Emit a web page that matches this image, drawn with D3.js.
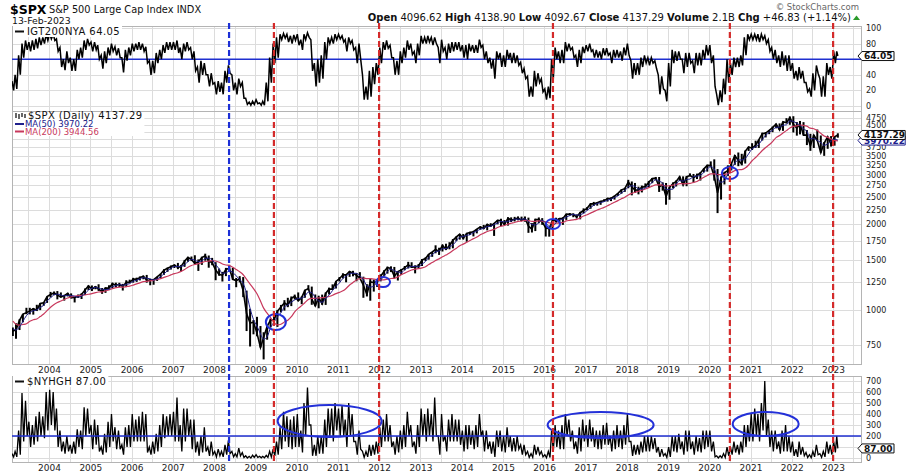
<!DOCTYPE html>
<html>
<head>
<meta charset="utf-8">
<script src="https://cdn.jsdelivr.net/npm/d3@7"></script>
<style>
  body { margin: 0; background: #fff; }
  svg text { font-family: "DejaVu Sans", Verdana, sans-serif; }
</style>
</head>
<body>
<div id="chart"></div>
<script>
/* DATA: monthly values, Feb 2003 .. Feb 2023 (241 months) */
const spxHigh = [
  864, 895, 924, 965, 1015, 1015, 1011, 1040, 1054, 1063, 1112,
  1155, 1159, 1163, 1150, 1127, 1146, 1141, 1109, 1131, 1142, 1188, 1217,
  1217, 1212, 1229, 1192, 1199, 1219, 1246, 1245, 1244, 1233, 1270, 1276,
  1295, 1297, 1310, 1318, 1326, 1285, 1280, 1307, 1340, 1389, 1407, 1432,
  1441, 1462, 1438, 1498, 1535, 1540, 1556, 1504, 1538, 1576, 1553, 1523,
  1471, 1396, 1359, 1404, 1440, 1405, 1293, 1313, 1303, 1167, 1007, 919,
  943, 875, 832, 878, 930, 956, 997, 1039, 1080, 1101, 1113, 1130,
  1150, 1113, 1175, 1220, 1206, 1131, 1120, 1130, 1150, 1196, 1228, 1263,
  1303, 1344, 1332, 1367, 1371, 1346, 1356, 1307, 1230, 1292, 1277, 1270,
  1333, 1378, 1419, 1422, 1415, 1363, 1392, 1426, 1475, 1470, 1434, 1448,
  1509, 1530, 1570, 1598, 1687, 1654, 1698, 1709, 1730, 1775, 1813, 1849,
  1850, 1867, 1884, 1897, 1924, 1968, 1991, 2005, 2019, 2018, 2075, 2094,
  2072, 2119, 2117, 2126, 2134, 2130, 2133, 2113, 2021, 2094, 2116, 2104,
  2038, 1962, 2072, 2111, 2103, 2120, 2178, 2194, 2188, 2169, 2214, 2278,
  2301, 2372, 2401, 2398, 2418, 2454, 2484, 2491, 2519, 2582, 2657, 2695,
  2873, 2835, 2801, 2718, 2742, 2791, 2848, 2916, 2941, 2940, 2816, 2800,
  2708, 2814, 2861, 2950, 2955, 2965, 3028, 3014, 3022, 3050, 3155, 3248,
  3338, 3394, 3136, 2955, 3068, 3233, 3280, 3514, 3588, 3550, 3646, 3760,
  3870, 3950, 3983, 4218, 4238, 4302, 4429, 4537, 4546, 4608, 4744, 4808,
  4819, 4595, 4637, 4593, 4307, 4178, 4141, 4325, 4120, 3906, 4080, 4101,
  4095, 4195
];
const spxLow = [
  807, 789, 847, 902, 963, 962, 960, 990, 996, 1031, 1056,
  1105, 1124, 1087, 1105, 1076, 1113, 1096, 1060, 1100, 1090, 1127, 1173,
  1163, 1180, 1164, 1137, 1146, 1188, 1191, 1201, 1201, 1168, 1201, 1245,
  1245, 1253, 1268, 1280, 1245, 1219, 1224, 1263, 1291, 1327, 1360, 1385,
  1403, 1389, 1364, 1416, 1476, 1484, 1454, 1370, 1439, 1489, 1406, 1435,
  1270, 1317, 1257, 1313, 1374, 1272, 1200, 1248, 1107, 840, 741, 818,
  805, 735, 667, 783, 866, 888, 869, 978, 992, 1020, 1029, 1086,
  1071, 1045, 1101, 1170, 1040, 1028, 1011, 1040, 1039, 1131, 1173, 1187,
  1257, 1289, 1249, 1305, 1311, 1259, 1282, 1101, 1114, 1075, 1158, 1202,
  1258, 1312, 1340, 1357, 1291, 1267, 1325, 1378, 1397, 1403, 1343, 1399,
  1426, 1485, 1501, 1536, 1581, 1560, 1604, 1627, 1633, 1646, 1746, 1767,
  1770, 1737, 1834, 1814, 1859, 1915, 1930, 1905, 1964, 1821, 2001, 1973,
  1988, 1980, 2039, 2048, 2067, 2056, 2044, 1867, 1872, 1894, 2019, 1993,
  1812, 1810, 1937, 2033, 2025, 1992, 2074, 2147, 2120, 2097, 2084, 2187,
  2245, 2271, 2322, 2329, 2345, 2405, 2407, 2417, 2446, 2520, 2566, 2605,
  2682, 2533, 2585, 2553, 2594, 2699, 2699, 2796, 2864, 2604, 2631, 2347,
  2444, 2681, 2722, 2849, 2750, 2728, 2952, 2822, 2891, 2856, 3051, 3071,
  3215, 2855, 2192, 2447, 2767, 2966, 3101, 3245, 3210, 3233, 3280, 3633,
  3663, 3725, 3723, 3955, 4056, 4165, 4233, 4367, 4306, 4279, 4560, 4495,
  4222, 4115, 4157, 4125, 3811, 3637, 3722, 3955, 3584, 3492, 3698, 3765,
  3794, 4048
];
const spxClose = [
  841, 848, 916, 964, 975, 990, 1008, 996, 1051, 1058, 1112,
  1131, 1145, 1126, 1107, 1121, 1141, 1102, 1104, 1115, 1130, 1174, 1212,
  1181, 1204, 1181, 1157, 1192, 1191, 1234, 1220, 1229, 1207, 1249, 1248,
  1280, 1281, 1295, 1311, 1270, 1270, 1277, 1304, 1336, 1378, 1401, 1418,
  1438, 1407, 1421, 1482, 1531, 1503, 1455, 1474, 1527, 1549, 1481, 1468,
  1379, 1331, 1323, 1386, 1400, 1280, 1267, 1283, 1166, 969, 896, 903,
  826, 735, 798, 873, 919, 919, 987, 1021, 1057, 1036, 1096, 1115,
  1074, 1104, 1169, 1187, 1089, 1031, 1102, 1049, 1141, 1183, 1181, 1258,
  1286, 1327, 1326, 1364, 1345, 1321, 1292, 1219, 1131, 1253, 1247, 1258,
  1312, 1366, 1408, 1398, 1310, 1362, 1379, 1407, 1441, 1412, 1416, 1426,
  1498, 1515, 1569, 1598, 1631, 1606, 1686, 1633, 1682, 1757, 1806, 1848,
  1783, 1859, 1872, 1884, 1924, 1960, 1931, 2003, 1972, 2018, 2068, 2059,
  1995, 2105, 2068, 2086, 2107, 2063, 2104, 1972, 1920, 2079, 2080, 2044,
  1940, 1932, 2060, 2065, 2097, 2099, 2174, 2171, 2168, 2126, 2199, 2239,
  2279, 2364, 2363, 2384, 2412, 2423, 2470, 2472, 2519, 2575, 2648, 2674,
  2824, 2714, 2641, 2648, 2705, 2718, 2816, 2902, 2914, 2712, 2760, 2507,
  2704, 2784, 2834, 2946, 2752, 2942, 2980, 2926, 2977, 3038, 3141, 3231,
  3226, 2954, 2585, 2912, 3044, 3100, 3271, 3500, 3363, 3270, 3622, 3756,
  3714, 3811, 3973, 4181, 4204, 4298, 4395, 4523, 4308, 4605, 4567, 4766,
  4516, 4374, 4530, 4132, 4132, 3785, 4130, 3955, 3586, 3872, 4080, 3840,
  4077, 4137.29
];
const ma50 = [
  859, 848, 868, 909, 952, 976, 991, 998, 1018, 1035, 1074,
  1100, 1129, 1134, 1126, 1118, 1123, 1121, 1116, 1107, 1116, 1140, 1172,
  1189, 1199, 1189, 1181, 1177, 1180, 1206, 1215, 1228, 1219, 1228, 1235,
  1259, 1270, 1285, 1296, 1292, 1284, 1272, 1284, 1306, 1339, 1372, 1399,
  1419, 1421, 1422, 1437, 1478, 1505, 1496, 1477, 1485, 1517, 1519, 1499,
  1443, 1393, 1344, 1347, 1370, 1355, 1316, 1277, 1239, 1139, 1010, 923,
  875, 821, 786, 802, 863, 904, 942, 976, 1022, 1038, 1063, 1082,
  1095, 1098, 1116, 1153, 1148, 1102, 1074, 1061, 1097, 1124, 1168, 1207,
  1242, 1290, 1313, 1339, 1345, 1343, 1319, 1277, 1214, 1201, 1210, 1253,
  1272, 1312, 1362, 1391, 1372, 1357, 1350, 1383, 1409, 1420, 1423, 1418,
  1447, 1480, 1527, 1561, 1599, 1612, 1641, 1642, 1667, 1691, 1748, 1804,
  1812, 1830, 1838, 1872, 1893, 1923, 1938, 1965, 1969, 1998, 2019, 2048,
  2041, 2053, 2056, 2086, 2087, 2085, 2091, 2046, 1999, 1990, 2026, 2068,
  2021, 1972, 1977, 2019, 2074, 2087, 2123, 2148, 2171, 2155, 2164, 2188,
  2239, 2294, 2335, 2370, 2386, 2406, 2435, 2455, 2487, 2522, 2581, 2632,
  2715, 2737, 2726, 2668, 2665, 2690, 2746, 2812, 2877, 2843, 2795, 2660,
  2657, 2665, 2774, 2855, 2844, 2880, 2891, 2949, 2961, 2980, 3052, 3137,
  3199, 3137, 2922, 2817, 2847, 3019, 3138, 3290, 3378, 3378, 3418, 3549,
  3697, 3760, 3833, 3988, 4119, 4228, 4299, 4405, 4409, 4479, 4493, 4646,
  4616, 4552, 4473, 4345, 4265, 4016, 4016, 3957, 3890, 3804, 3846, 3931,
  3999, 3970.22
];
const ma200 = [
  910, 888, 881, 886, 892, 909, 921, 927, 945, 965, 992,
  1020, 1043, 1059, 1072, 1086, 1099, 1109, 1115, 1120, 1122, 1127, 1133,
  1139, 1148, 1154, 1156, 1165, 1174, 1186, 1195, 1200, 1200, 1206, 1211,
  1221, 1233, 1243, 1255, 1259, 1264, 1269, 1279, 1287, 1300, 1312, 1326,
  1340, 1350, 1365, 1386, 1412, 1432, 1443, 1453, 1466, 1479, 1483, 1489,
  1485, 1470, 1449, 1437, 1432, 1412, 1386, 1360, 1328, 1278, 1230, 1187,
  1138, 1073, 1012, 972, 937, 900, 883, 888, 904, 917, 944, 982,
  1010, 1033, 1058, 1085, 1095, 1096, 1100, 1102, 1106, 1113, 1124, 1139,
  1151, 1165, 1188, 1222, 1246, 1273, 1288, 1292, 1287, 1286, 1283, 1276,
  1274, 1274, 1281, 1288, 1290, 1305, 1329, 1345, 1364, 1380, 1390, 1396,
  1405, 1417, 1443, 1466, 1491, 1511, 1536, 1558, 1584, 1618, 1648, 1682,
  1703, 1729, 1753, 1781, 1805, 1838, 1862, 1887, 1904, 1921, 1949, 1969,
  1981, 2004, 2018, 2031, 2048, 2054, 2067, 2063, 2048, 2050, 2058, 2052,
  2040, 2024, 2019, 2020, 2019, 2032, 2057, 2066, 2075, 2083, 2109, 2140,
  2162, 2192, 2218, 2247, 2271, 2296, 2326, 2361, 2393, 2426, 2463, 2494,
  2540, 2573, 2596, 2619, 2642, 2667, 2696, 2729, 2756, 2759, 2753, 2732,
  2739, 2752, 2765, 2788, 2782, 2786, 2792, 2814, 2835, 2888, 2932, 2977,
  3016, 3017, 3000, 2997, 3003, 3021, 3050, 3096, 3119, 3123, 3162, 3242,
  3355, 3445, 3538, 3646, 3739, 3819, 3922, 4048, 4116, 4201, 4287, 4382,
  4436, 4456, 4488, 4472, 4445, 4372, 4354, 4289, 4191, 4101, 4058, 4004,
  3959, 3944.56
];
// % of NYSE stocks above 200-day MA: monthly low / high
const igtLow = [
  20, 22, 40, 62, 72, 70, 72, 74, 78, 80, 84,
  86, 84, 70, 50, 46, 55, 45, 45, 60, 62, 72, 78,
  70, 72, 60, 48, 55, 65, 70, 65, 62, 43, 58, 65,
  70, 72, 72, 70, 55, 40, 42, 55, 60, 68, 72, 72,
  72, 68, 60, 70, 72, 60, 45, 30, 40, 40, 25, 28,
  15, 18, 15, 30, 42, 20, 15, 25, 10, 2, 1, 2,
  3, 1, 1, 6, 30, 55, 62, 85, 87, 82, 80, 84,
  78, 72, 85, 88, 45, 25, 30, 35, 60, 80, 80, 85,
  86, 82, 70, 80, 72, 55, 60, 8, 8, 12, 28, 40,
  55, 72, 74, 62, 40, 40, 55, 62, 72, 66, 55, 65,
  80, 80, 82, 78, 80, 55, 70, 60, 68, 70, 72, 70,
  62, 60, 70, 68, 68, 75, 60, 55, 48, 35, 60, 50,
  50, 60, 55, 55, 52, 42, 35, 12, 12, 25, 30, 18,
  8, 10, 35, 60, 55, 55, 70, 72, 62, 50, 55, 68,
  70, 70, 62, 62, 60, 65, 65, 55, 62, 62, 58, 65,
  65, 35, 40, 40, 50, 55, 52, 55, 48, 15, 22, 6,
  25, 55, 58, 60, 42, 50, 55, 42, 52, 52, 60, 65,
  55, 25, 1, 5, 15, 30, 40, 50, 50, 52, 65, 85,
  85, 85, 82, 85, 80, 70, 60, 55, 50, 52, 45, 45,
  35, 33, 35, 30, 18, 12, 20, 42, 12, 12, 40, 35,
  55, 64.05
];
const igtHigh = [
  32, 40, 65, 80, 84, 82, 84, 86, 88, 88, 92,
  93, 92, 86, 75, 60, 70, 62, 60, 72, 75, 84, 86,
  82, 82, 78, 65, 70, 75, 80, 76, 74, 62, 72, 75,
  80, 80, 82, 80, 76, 58, 58, 68, 72, 78, 82, 82,
  82, 84, 75, 80, 82, 75, 70, 50, 58, 55, 40, 42,
  30, 32, 30, 45, 52, 40, 30, 35, 30, 10, 5, 6,
  8, 4, 6, 30, 62, 80, 88, 92, 93, 92, 90, 91,
  92, 85, 92, 94, 85, 55, 60, 65, 82, 88, 88, 92,
  92, 90, 85, 88, 84, 75, 80, 40, 25, 45, 50, 55,
  75, 82, 84, 78, 62, 58, 70, 75, 84, 80, 70, 80,
  90, 88, 90, 88, 88, 75, 85, 75, 80, 82, 82, 82,
  78, 78, 80, 78, 78, 85, 78, 70, 62, 60, 70, 68,
  65, 72, 68, 68, 65, 56, 48, 38, 25, 45, 42, 35,
  22, 25, 60, 75, 70, 72, 82, 80, 75, 65, 72, 76,
  78, 80, 72, 72, 70, 74, 74, 68, 72, 72, 70, 75,
  80, 58, 55, 55, 62, 65, 62, 62, 58, 40, 38, 20,
  55, 72, 70, 70, 60, 68, 68, 58, 68, 68, 72, 78,
  78, 65, 15, 20, 35, 60, 55, 62, 62, 65, 88, 92,
  92, 92, 92, 92, 90, 85, 75, 72, 65, 70, 65, 65,
  55, 45, 50, 45, 30, 22, 42, 52, 35, 38, 55, 50,
  70, 70
];
// NYSE new highs: monthly low / high
const nyhLow = [
  10, 10, 30, 150, 200, 100, 120, 150, 200, 180, 250,
  300, 250, 100, 60, 40, 60, 40, 40, 100, 80, 200, 220,
  80, 120, 60, 30, 50, 100, 150, 80, 80, 30, 100, 100,
  150, 150, 150, 150, 50, 30, 40, 60, 100, 180, 200, 200,
  150, 150, 60, 150, 200, 80, 50, 20, 50, 60, 20, 30,
  10, 20, 10, 30, 40, 10, 10, 20, 5, 0, 0, 5,
  5, 2, 2, 5, 10, 20, 30, 80, 150, 100, 80, 100,
  100, 50, 200, 300, 20, 20, 40, 40, 100, 200, 150, 250,
  200, 200, 100, 200, 150, 30, 80, 5, 10, 20, 30, 40,
  100, 150, 150, 100, 30, 50, 80, 100, 200, 100, 40, 100,
  200, 150, 200, 150, 200, 30, 150, 60, 150, 150, 150, 120,
  60, 80, 120, 80, 100, 200, 60, 80, 40, 10, 100, 60,
  50, 100, 60, 60, 80, 30, 30, 5, 5, 30, 30, 10,
  2, 5, 60, 100, 80, 80, 200, 150, 80, 40, 60, 150,
  100, 150, 100, 80, 80, 120, 120, 60, 80, 100, 80, 120,
  150, 20, 30, 30, 50, 60, 60, 80, 50, 10, 20, 5,
  10, 60, 50, 80, 30, 60, 80, 30, 60, 50, 80, 100,
  60, 10, 0, 2, 5, 20, 30, 50, 30, 50, 100, 150,
  150, 200, 150, 250, 200, 100, 60, 80, 40, 60, 60, 50,
  20, 10, 30, 20, 5, 2, 10, 30, 5, 10, 40, 30,
  50, 87
];
const nyhHigh = [
  40, 60, 250, 590, 520, 330, 300, 380, 420, 380, 600,
  620, 600, 450, 250, 150, 200, 120, 150, 260, 250, 460, 450,
  300, 350, 300, 100, 220, 330, 400, 280, 250, 120, 280, 300,
  400, 350, 380, 420, 400, 100, 150, 220, 300, 400, 380, 400,
  420, 550, 300, 450, 450, 350, 350, 150, 200, 280, 100, 150,
  60, 80, 60, 120, 160, 60, 40, 90, 50, 20, 15, 25,
  30, 15, 15, 25, 60, 80, 150, 280, 420, 380, 350, 380,
  400, 250, 500, 640, 300, 120, 200, 200, 350, 450, 450, 500,
  450, 480, 350, 500, 400, 150, 250, 60, 60, 120, 120, 150,
  280, 350, 400, 300, 150, 200, 250, 300, 420, 300, 150, 300,
  450, 400, 450, 400, 550, 200, 400, 200, 350, 400, 350, 350,
  250, 300, 300, 250, 300, 400, 250, 250, 150, 150, 250, 250,
  200, 280, 200, 180, 200, 120, 120, 60, 40, 120, 100, 60,
  30, 60, 250, 300, 250, 300, 400, 350, 250, 150, 280, 350,
  300, 350, 280, 250, 250, 300, 320, 200, 250, 300, 250, 300,
  400, 150, 120, 120, 150, 200, 200, 200, 180, 100, 80, 40,
  100, 200, 200, 220, 150, 250, 250, 150, 200, 180, 250, 250,
  250, 150, 20, 20, 40, 100, 100, 150, 120, 150, 300, 300,
  400, 450, 400, 500, 700, 350, 250, 250, 150, 250, 300, 200,
  150, 80, 150, 100, 50, 30, 60, 120, 40, 60, 150, 120,
  150, 200
];

const yearLabels = d3.range(2004, 2024);
const igtTicks = [0, 20, 40, 60, 80, 100];
const priceTicks = [750, 1000, 1250, 1500, 1750, 2000, 2250, 2500, 2750, 3000,
                    3250, 3500, 3750, 4000, 4250, 4500, 4750];
const nyhTicks = [0, 100, 200, 300, 400, 500, 600, 700];
// tick labels that sit under a value tag in the picture
const igtHidden = [60];
const priceHidden = [4000, 4250];
const nyhHidden = [100];

// annotations
const redDates = ["2009-06-14", "2012-01-01", "2016-03-19", "2020-07-02", "2023-01-02"];
const blueDates = ["2008-05-13"];
const igtLevel = 60;
const nyhLevel = 200;
const priceCircles = [
  { date: "2009-07-01", value: 904, rx: 10, ry: 8 },
  { date: "2012-02-05", value: 1251, rx: 7, ry: 5 },
  { date: "2016-03-19", value: 2006, rx: 7, ry: 5 },
  { date: "2020-07-02", value: 3037, rx: 8, ry: 6 }
];
const nyhCircles = [
  { date: "2010-10-20", value: 336, rx: 52, ry: 16 },
  { date: "2017-05-15", value: 300, rx: 53, ry: 13 },
  { date: "2021-05-15", value: 309, rx: 33, ry: 12 }
];

/* LAYOUT */
const W = 907, H = 475;
const L = 12, R = 861;
const top1 = { top: 26, bottom: 111 };
const mid = { top: 111, bottom: 364 };
const bot = { top: 376, bottom: 462 };

const svg = d3.select("#chart").append("svg")
  .attr("width", W).attr("height", H)
  .style("font-family", "'DejaVu Sans', Verdana, sans-serif");

const parse = d3.timeParse("%Y-%m-%d");
const monthDate = (i, day) => new Date(2003, 1 + i, day);
const lastIdx = spxClose.length - 1;
const barDate = i => (i === lastIdx ? new Date(2023, 1, 13) : monthDate(i, 15));

const x = d3.scaleTime()
  .domain([new Date(2004, 0, 1), new Date(2023, 0, 1)])
  .range([49, 833]);
const yTop = d3.scaleLinear().domain([0, 100]).range([106, 28]);
const yMid = d3.scaleLog().domain([750, 4750]).range([345, 118]);
const yBot = d3.scaleLinear().domain([0, 700]).range([458, 381]);

const gridDates = d3.timeMonth.every(6).range(new Date(2003, 6, 1), new Date(2023, 8, 1));

function panel(p, y, ticks, hidden, id) {
  const g = svg.append("g");
  g.append("rect").attr("x", L).attr("y", p.top)
    .attr("width", R - L).attr("height", p.bottom - p.top)
    .attr("fill", "#fff");
  // vertical grid
  g.selectAll(".vg").data(gridDates).enter().append("line")
    .attr("x1", d => Math.round(x(d)) + 0.5).attr("x2", d => Math.round(x(d)) + 0.5)
    .attr("y1", p.top).attr("y2", p.bottom)
    .attr("stroke", "#dcdcdc").attr("stroke-width", 1);
  // horizontal grid
  g.selectAll(".hg").data(ticks).enter().append("line")
    .attr("x1", L).attr("x2", R)
    .attr("y1", d => Math.round(y(d)) + 0.5).attr("y2", d => Math.round(y(d)) + 0.5)
    .attr("stroke", "#dcdcdc").attr("stroke-width", 1);
  g.append("rect").attr("x", L + 0.5).attr("y", p.top + 0.5)
    .attr("width", R - L).attr("height", p.bottom - p.top)
    .attr("fill", "none").attr("stroke", "#b4b4b4");
  // right axis labels
  const ax = d3.axisRight(y).tickValues(ticks.filter(t => !hidden.includes(t)))
    .tickSize(0).tickPadding(5).tickFormat(d3.format("d"));
  svg.append("g").attr("transform", `translate(${R},0)`).call(ax)
    .call(s => s.select(".domain").remove())
    .selectAll("text").attr("font-size", 8).attr("fill", "#222")
    .attr("font-family", "'DejaVu Sans', Verdana, sans-serif");
  svg.append("clipPath").attr("id", id).append("rect")
    .attr("x", L).attr("y", p.top).attr("width", R - L).attr("height", p.bottom - p.top);
}

panel(top1, yTop, igtTicks, igtHidden, "clipTop");
panel(mid, yMid, priceTicks, priceHidden, "clipMid");
panel(bot, yBot, nyhTicks, nyhHidden, "clipBot");

// year labels under middle and bottom panels
[mid.bottom + 3, bot.bottom + 2.5].forEach(ty => {
  svg.append("g").attr("transform", `translate(0,${ty})`)
    .call(d3.axisBottom(x).tickValues(yearLabels.map(yr => new Date(yr, 0, 1)))
      .tickSize(0).tickPadding(0).tickFormat(d3.timeFormat("%Y")))
    .call(s => s.select(".domain").remove())
    .selectAll("text").attr("font-size", 9).attr("fill", "#222")
    .attr("font-family", "'DejaVu Sans', Verdana, sans-serif");
});

// zigzag path from monthly low/high
function zigzag(lo, hi) {
  const pts = [];
  lo.forEach((v, i) => {
    const last = i === lo.length - 1;
    pts.push([monthDate(i, last ? 3 : 7), hi[i]]);
    pts.push([last ? new Date(2023, 1, 13) : monthDate(i, 22), lo[i]]);
  });
  return pts;
}

/* TOP PANEL */
const gTop = svg.append("g").attr("clip-path", "url(#clipTop)");
gTop.append("line").attr("x1", L).attr("x2", R + 1)
  .attr("y1", yTop(igtLevel)).attr("y2", yTop(igtLevel))
  .attr("stroke", "#1f2fd0").attr("stroke-width", 1.6);
gTop.append("path").datum(zigzag(igtLow, igtHigh))
  .attr("d", d3.line().x(d => x(d[0])).y(d => yTop(d[1])))
  .attr("fill", "none").attr("stroke", "#000").attr("stroke-width", 1.5);

/* MIDDLE PANEL */
const gMid = svg.append("g").attr("clip-path", "url(#clipMid)");
gMid.selectAll(".bar").data(spxClose).enter().append("line")
  .attr("x1", (d, i) => x(barDate(i))).attr("x2", (d, i) => x(barDate(i)))
  .attr("y1", (d, i) => yMid(spxHigh[i])).attr("y2", (d, i) => yMid(spxLow[i]))
  .attr("stroke", "#000").attr("stroke-width", 2);
gMid.append("path").datum(spxClose)
  .attr("d", d3.line().x((d, i) => x(barDate(i))).y(d => yMid(d)))
  .attr("fill", "none").attr("stroke", "#000").attr("stroke-width", 1.6);
gMid.append("path").datum(ma200)
  .attr("d", d3.line().curve(d3.curveMonotoneX).x((d, i) => x(barDate(i))).y(d => yMid(d)))
  .attr("fill", "none").attr("stroke", "#c8385c").attr("stroke-width", 1.2);
gMid.append("path").datum(ma50)
  .attr("d", d3.line().curve(d3.curveMonotoneX).x((d, i) => x(barDate(i))).y(d => yMid(d)))
  .attr("fill", "none").attr("stroke", "#20208c").attr("stroke-width", 1);
priceCircles.forEach(c => {
  svg.append("ellipse").attr("cx", x(parse(c.date))).attr("cy", yMid(c.value))
    .attr("rx", c.rx).attr("ry", c.ry)
    .attr("fill", "none").attr("stroke", "#2330d8").attr("stroke-width", 2);
});

/* BOTTOM PANEL */
const gBot = svg.append("g").attr("clip-path", "url(#clipBot)");
gBot.append("path").datum(zigzag(nyhLow, nyhHigh))
  .attr("d", d3.line().x(d => x(d[0])).y(d => yBot(d[1])))
  .attr("fill", "none").attr("stroke", "#000").attr("stroke-width", 1.3);
gBot.append("line").attr("x1", L).attr("x2", R + 1)
  .attr("y1", yBot(nyhLevel)).attr("y2", yBot(nyhLevel))
  .attr("stroke", "#1f2fd0").attr("stroke-width", 1.6);
nyhCircles.forEach(c => {
  svg.append("ellipse").attr("cx", x(parse(c.date))).attr("cy", yBot(c.value))
    .attr("rx", c.rx).attr("ry", c.ry)
    .attr("fill", "none").attr("stroke", "#2330d8").attr("stroke-width", 2);
});

/* VERTICAL DASHED MARKERS */
function vline(dateStr, color) {
  svg.append("line").attr("x1", x(parse(dateStr))).attr("x2", x(parse(dateStr)))
    .attr("y1", 23).attr("y2", bot.bottom)
    .attr("stroke", color).attr("stroke-width", 2.2).attr("stroke-dasharray", "6,3");
}
blueDates.forEach(d => vline(d, "#1c2fd6"));
redDates.forEach(d => vline(d, "#d42a2a"));

/* LEGENDS */
function legendLine(lx, ly, color, label, size) {
  const t = svg.append("text").attr("x", lx + 12).attr("y", ly)
    .attr("font-size", size).attr("letter-spacing", 0.4).attr("fill", color).text(label);
  const bb = t.node().getBBox();
  svg.insert("rect", () => t.node())
    .attr("x", lx - 2).attr("y", bb.y - 1)
    .attr("width", bb.x + bb.width - lx + 4).attr("height", bb.height + 1)
    .attr("fill", "#fff");
  svg.append("line").attr("x1", lx).attr("x2", lx + 9)
    .attr("y1", ly - 3.5).attr("y2", ly - 3.5)
    .attr("stroke", color).attr("stroke-width", 2);
}
legendLine(15, 35, "#111", "IGT200NYA 64.05", 10);
legendLine(15, 385, "#111", "$NYHGH 87.00", 10);

// $SPX legend with bar icon
{
  const t = svg.append("text").attr("x", 28).attr("y", 119)
    .attr("font-size", 10).attr("letter-spacing", 0.4).attr("fill", "#111")
    .text("$SPX (Daily) 4137.29");
  const bb = t.node().getBBox();
  svg.insert("rect", () => t.node()).attr("x", 13).attr("y", 112)
    .attr("width", bb.x + bb.width - 11).attr("height", 24).attr("fill", "#fff");
  const icon = svg.append("g").attr("stroke", "#000").attr("stroke-width", 1.2);
  [[16, 113, 118], [19, 114, 119], [22, 113, 117], [25, 114, 118]].forEach(b => {
    icon.append("line").attr("x1", b[0]).attr("x2", b[0]).attr("y1", b[1]).attr("y2", b[2]);
  });
  svg.append("line").attr("x1", 15).attr("x2", 24).attr("y1", 124).attr("y2", 124)
    .attr("stroke", "#20208c").attr("stroke-width", 2);
  svg.append("text").attr("x", 25).attr("y", 127).attr("font-size", 8.5)
    .attr("fill", "#20208c").text("MA(50) 3970.22");
  svg.append("line").attr("x1", 15).attr("x2", 24).attr("y1", 131.5).attr("y2", 131.5)
    .attr("stroke", "#c8385c").attr("stroke-width", 2);
  svg.append("text").attr("x", 25).attr("y", 134.5).attr("font-size", 8.5)
    .attr("fill", "#c8385c").text("MA(200) 3944.56");
}

/* VALUE TAGS ON RIGHT AXIS */
function tag(yv, label, color) {
  const w = label.length * 5.6 + 4;
  svg.append("path")
    .attr("d", `M${R - 3},${yv} L${R + 1},${yv - 4.5} L${R + 1 + w},${yv - 4.5} L${R + 1 + w},${yv + 4.5} L${R + 1},${yv + 4.5} Z`)
    .attr("fill", "#fff").attr("stroke", color).attr("stroke-width", 1);
  svg.append("text").attr("x", R + 3).attr("y", yv + 3.3)
    .attr("font-size", 9).attr("font-weight", "bold").attr("fill", color).text(label);
}
tag(yTop(64.05), "64.05", "#111");
tag(yMid(3970.22) + 0.5, "3970.22", "#20208c");
tag(yMid(4137.29), "4137.29", "#111");
tag(yBot(87), "87.00", "#111");

/* HEADER */
svg.append("text").attr("x", 10).attr("y", 14).attr("font-size", 12.5)
  .attr("font-weight", "bold").attr("fill", "#000").text("$SPX");
svg.append("text").attr("x", 49).attr("y", 13).attr("font-size", 9.8)
  .attr("fill", "#111").text("S&P 500 Large Cap Index  INDX");
svg.append("text").attr("x", 12).attr("y", 24).attr("font-size", 9.3)
  .attr("fill", "#111").text("13-Feb-2023");
svg.append("text").attr("x", 859).attr("y", 10).attr("font-size", 8.5)
  .attr("text-anchor", "end").attr("fill", "#666").text("© StockCharts.com");
{
  const parts = [["Open", " 4096.62  "], ["High", " 4138.90  "], ["Low", " 4092.67  "],
                 ["Close", " 4137.29  "], ["Volume", " 2.1B  "], ["Chg", " +46.83 (+1.14%)"]];
  const t = svg.append("text").attr("x", 851).attr("y", 21).attr("font-size", 10)
    .attr("text-anchor", "end").attr("fill", "#111");
  parts.forEach(p => {
    t.append("tspan").attr("font-weight", "bold").text(p[0]);
    t.append("tspan").text(p[1]);
  });
  svg.append("path").attr("d", "M853,20 L856.5,15.5 L860,20 Z").attr("fill", "#2a9a2a");
}
</script>
</body>
</html>
